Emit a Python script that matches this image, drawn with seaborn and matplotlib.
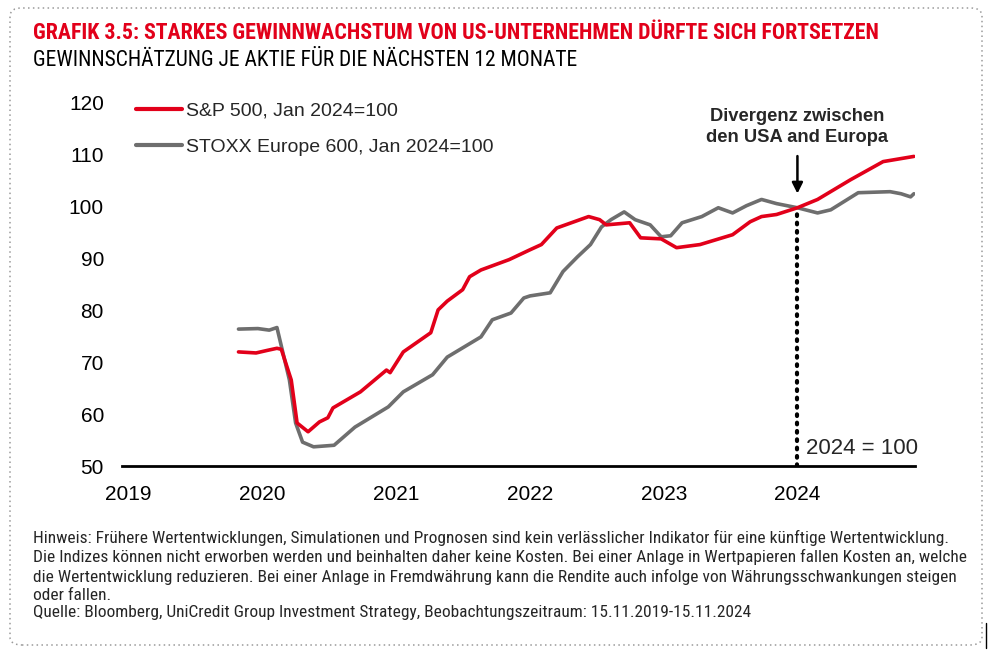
import matplotlib
matplotlib.use("Agg")
import matplotlib.pyplot as plt
from matplotlib import font_manager
from matplotlib.patches import FancyBboxPatch
from matplotlib.lines import Line2D
import seaborn as sns
import pandas as pd

sns.set_theme(style="white")

# pick a condensed family if one is installed
cond = None
names = {f.name for f in font_manager.fontManager.ttflist}
for cand in ["Roboto Condensed", "Liberation Sans Narrow", "Open Sans Condensed",
             "DejaVu Sans Condensed", "Noto Sans Condensed"]:
    if cand in names:
        cond = cand
        break
BASE = ['Liberation Sans', 'DejaVu Sans']
plt.rcParams['font.family'] = BASE
TFAM = ([cond] if cond else []) + BASE

# ---------------- data ----------------
sp_dates = ["2019-10-28", "2019-12-15", "2020-01-15", "2020-02-10", "2020-02-22",
            "2020-03-20", "2020-04-05", "2020-05-05", "2020-06-05", "2020-06-28",
            "2020-07-12", "2020-09-25", "2020-12-05", "2020-12-15", "2021-01-20",
            "2021-04-05", "2021-04-25", "2021-05-20", "2021-07-01", "2021-07-20",
            "2021-08-20", "2021-11-05", "2022-01-01", "2022-02-01", "2022-03-15",
            "2022-06-10", "2022-07-10", "2022-07-28", "2022-09-30", "2022-10-30",
            "2022-12-25", "2023-02-05", "2023-04-10", "2023-07-08", "2023-08-25",
            "2023-09-25", "2023-11-05", "2024-01-01", "2024-02-25", "2024-05-25",
            "2024-08-22", "2024-11-14"]
sp_values = [72.0, 71.8, 72.3, 72.7, 72.5,
             66.6, 58.3, 56.6, 58.5, 59.3,
             61.2, 64.3, 68.5, 68.0, 72.0,
             75.7, 80.1, 81.8, 84.0, 86.5,
             87.8, 89.8, 91.7, 92.7, 95.9,
             98.1, 97.5, 96.5, 96.9, 94.0,
             93.8, 92.1, 92.7, 94.6, 97.1,
             98.1, 98.5, 99.8, 101.4, 105.2,
             108.7, 109.7]

stoxx_dates = ["2019-10-28", "2019-12-20", "2020-01-20", "2020-02-10", "2020-03-15",
               "2020-04-01", "2020-04-20", "2020-05-20", "2020-07-15", "2020-09-10",
               "2020-12-10", "2021-01-20", "2021-04-10", "2021-05-20", "2021-08-20",
               "2021-09-20", "2021-11-10", "2021-12-15", "2022-01-01", "2022-02-25",
               "2022-04-01", "2022-05-10", "2022-06-15", "2022-07-15", "2022-08-10",
               "2022-09-15", "2022-10-15", "2022-11-25", "2022-12-25", "2023-01-20",
               "2023-02-20", "2023-04-15", "2023-05-30", "2023-07-08", "2023-08-15",
               "2023-09-25", "2023-11-05", "2024-01-01", "2024-02-25", "2024-04-01",
               "2024-06-15", "2024-09-10", "2024-10-10", "2024-11-05", "2024-11-14"]
stoxx_values = [76.4, 76.5, 76.2, 76.7, 66.6,
                58.3, 54.6, 53.7, 54.0, 57.5,
                61.4, 64.3, 67.6, 71.0, 74.9,
                78.2, 79.5, 82.4, 82.8, 83.4,
                87.5, 90.3, 92.7, 96.1, 97.5,
                99.0, 97.5, 96.5, 94.2, 94.4,
                96.9, 98.1, 99.8, 98.8, 100.2,
                101.4, 100.6, 99.8, 98.8, 99.4,
                102.7, 102.9, 102.5, 101.9, 102.5]

x_ticks = ["2019-01-01", "2020-01-01", "2021-01-01", "2022-01-01", "2023-01-01", "2024-01-01"]
x_labels = ["2019", "2020", "2021", "2022", "2023", "2024"]
y_ticks = [50, 60, 70, 80, 90, 100, 110, 120]

series_names = ["S&P 500, Jan 2024=100", "STOXX Europe 600, Jan 2024=100"]

df = pd.concat([
    pd.DataFrame({"date": pd.to_datetime(sp_dates), "value": sp_values, "series": series_names[0]}),
    pd.DataFrame({"date": pd.to_datetime(stoxx_dates), "value": stoxx_values, "series": series_names[1]}),
], ignore_index=True)

RED = "#E2001A"
GRAY = "#6E6E6E"

fig = plt.figure(figsize=(9.91, 6.54), dpi=100)
ax = fig.add_axes([122/991, 1-466/654, (915-122)/991, (466-103)/654])

sns.lineplot(data=df, x="date", y="value", hue="series", hue_order=series_names[::-1],
             palette={series_names[0]: RED, series_names[1]: GRAY},
             linewidth=2.6, ax=ax, legend=False)

ax.set_ylim(50, 120)
ax.set_xlim(pd.Timestamp("2018-12-14"), pd.Timestamp("2024-11-17"))
ax.set_yticks(y_ticks)
ax.set_yticklabels([str(v) for v in y_ticks], fontsize=15)
ax.set_xticks(pd.to_datetime(x_ticks))
ax.set_xticklabels(x_labels, fontsize=15)
ax.tick_params(axis="both", length=0, colors="black")
ax.tick_params(axis="y", pad=13)
ax.tick_params(axis="x", pad=14)
ax.set_xlabel("")
ax.set_ylabel("")
for s in ["top", "right", "left"]:
    ax.spines[s].set_visible(False)
ax.spines["bottom"].set_color("black")
ax.spines["bottom"].set_linewidth(2)
ax.grid(False)

# legend
handles = [Line2D([], [], color=RED, lw=3), Line2D([], [], color=GRAY, lw=3)]
ax.legend(handles, series_names, loc="upper left", bbox_to_anchor=(0.0, 1.04),
          frameon=False, fontsize=14, handlelength=2.4, handletextpad=0.2,
          labelspacing=0.95, borderaxespad=0.3)

# 2024 marker
jan24 = pd.Timestamp("2024-01-01")
ax.plot([jan24, jan24], [50, 99.6], color="black", lw=3, linestyle=(0, (0.4, 1.6)),
        dash_capstyle="round")
ax.text(pd.Timestamp("2024-01-24"), 51.3, "2024 = 100", fontsize=16, ha="left", va="bottom")
ax.annotate("", xy=(jan24, 102.0), xytext=(jan24, 110.3),
            arrowprops=dict(arrowstyle="-|>", color="black", lw=1.8, mutation_scale=16))
ax.text(jan24, 111.8, "Divergenz zwischen\nden USA and Europa", fontsize=13.2,
        fontweight="bold", ha="center", va="bottom", linespacing=1.3)

# titles
t1 = fig.text(33/991, 1-33/654, "GRAFIK 3.5: STARKES GEWINNWACHSTUM VON US-UNTERNEHMEN DÜRFTE SICH FORTSETZEN",
              color=RED, fontsize=13, fontweight="bold", ha="left", va="center", family=TFAM)
t2 = fig.text(33/991, 1-61/654, "GEWINNSCHÄTZUNG JE AKTIE FÜR DIE NÄCHSTEN 12 MONATE",
              color="black", fontsize=13, ha="left", va="center", family=TFAM)

foot_lines = [
    "Hinweis: Frühere Wertentwicklungen, Simulationen und Prognosen sind kein verlässlicher Indikator für eine künftige Wertentwicklung.",
    "Die Indizes können nicht erworben werden und beinhalten daher keine Kosten. Bei einer Anlage in Wertpapieren fallen Kosten an, welche",
    "die Wertentwicklung reduzieren. Bei einer Anlage in Fremdwährung kann die Rendite auch infolge von Währungsschwankungen steigen",
    "oder fallen.",
    "Quelle: Bloomberg, UniCredit Group Investment Strategy, Beobachtungszeitraum: 15.11.2019-15.11.2024",
]
foot_y = [538, 557, 577, 595, 613]
foot_txt = [fig.text(33/991, 1-y/654, s, fontsize=11, ha="left", va="center", family=TFAM)
            for s, y in zip(foot_lines, foot_y)]

# fit text widths to the reference
r = fig.canvas.get_renderer()
for t, target in [(t1, 845), (t2, 544)]:
    w = t.get_window_extent(renderer=r).width
    t.set_fontsize(t.get_fontsize() * target / w)
w1 = foot_txt[1].get_window_extent(renderer=r).width
fs = 11 * 927 / w1
for t in foot_txt:
    t.set_fontsize(fs)

# dotted rounded frame
fig.patches.append(FancyBboxPatch((10/991, 1-645/654), (982-10)/991, (645-8)/654,
                                  boxstyle="round,pad=0,rounding_size=0.012",
                                  transform=fig.transFigure, fill=False,
                                  edgecolor="#9a9a9a", linestyle=(0, (1, 2.2)), lw=1.1))
fig.add_artist(Line2D([986/991, 986/991], [1-648/654, 1-623/654], color="black", lw=1,
                      transform=fig.transFigure))

fig.savefig("out.png", dpi=100)
